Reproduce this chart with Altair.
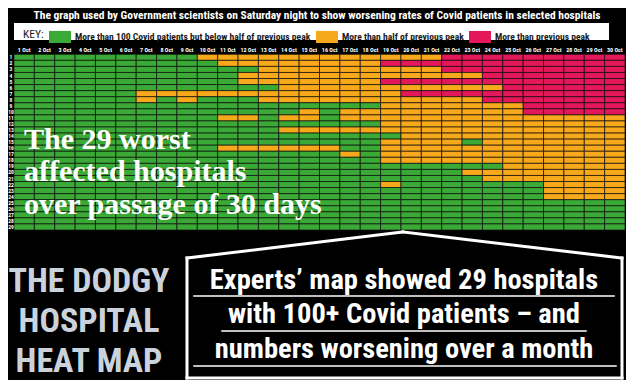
import altair as alt
import pandas as pd

# ---------------- data ----------------
TITLE = ("The graph used by Government scientists on Saturday night to show "
         "worsening rates of Covid patients in selected hospitals")
KEY_TITLE = "KEY:"
KEY_LABELS = [
    "More than 100 Covid patients but below half of previous peak",
    "More than half of previous peak",
    "More than previous peak",
]
KEY_COLORS = ["#3aa936", "#f7a81b", "#e3175a"]
KEY_CODES = ["G", "O", "R"]

DAYS = list(range(1, 31))
DAY_LABELS = [f"{d} Oct" for d in DAYS]
HOSPITALS = list(range(1, 30))

# one string per hospital (row), one letter per day 1..30 Oct (grouped by 5 days)
# G = below half of previous peak, O = more than half, R = more than previous peak
STATUS_ROWS = [
    "GGGGG GGGGO OOOOO OOOOO ORRRR RRRRR",  # 1
    "GGGGG GGGGG OOOOO OOORR RRRRR RRRRR",  # 2
    "GGGGG GGGGG GGOOO OOOOO ORRRR RRRRR",  # 3
    "GGGGG GGGGG GOOOO OOOOO OOORR RRRRR",  # 4
    "GGGGG GGGGG GOOOO OOORR RRRRR RRRRR",  # 5
    "GGGGG GGGGG GGGOO OOOOO OOOOR RRRRR",  # 6
    "GGGGG GOOOO OOOOO OOOOR RRRRR RRRRR",  # 7
    "GGGGG GOGOG GGOOO OOOOO OOORR RRRRR",  # 8
    "GGGGG GGGGG GGGGG GGGOO OOOOO RRRRR",  # 9
    "GGGGG GGGGG GGGGO GOOOO OOOOO RRRRR",  # 10
    "GGGGG GGGGG OOGOO GOOOO OOOOO OOOOO",  # 11
    "GGGGG GGGGG GGGGG GGGOO OOOOO OOOOO",  # 12
    "GGGGG GGGGG GGGOO OOOOO OOOOO OOOOO",  # 13
    "GGGGG GGGGG GGGGG GGGGO OOOOO OOOOO",  # 14
    "GGGGG GGGGG GGGGG GGGOO OOGOO OOOOO",  # 15
    "GGGGG GGGGG OOOOO OGGOO OOOOO OOOOO",  # 16
    "GGGGG GGGGG GGGGG GOGOO OOOOO OOOOO",  # 17
    "GGGGG GGGGG GGGGG GGGOO OOOOO OOOOO",  # 18
    "GGGGG GGGGG GGGGG GGGGG GGGGO OOOOO",  # 19
    "GGGGG GGGGG GGGGG GGGGG GGOOO OOOOO",  # 20
    "GGGGG GGGGG GGGGG GGGGG GGGOO OOOOO",  # 21
    "GGGGG GGGGG GGGGG GGGOG GGGGG GOOOO",  # 22
    "GGGGG GGGGG GGGGG GGGGG GGGGG GOOOO",  # 23
    "GGGGG GGGGG GGGGG GGGGG GGGGG GOOOO",  # 24
    "GGGGG GGGGG GGGGG GGGGG GGGGG GGGGG",  # 25
    "GGGGG GGGGG GGGGG GGGGG GGGGG GGGGG",  # 26
    "GGGGG GGGGG GGGGG GGGGG GGGGG GGGGG",  # 27
    "GGGGG GGGGG GGGGG GGGGG GGGGG GGGGG",  # 28
    "GGGGG GGGGG GGGGG GGGGG GGGGG GGGGG",  # 29
]

OVERLAY_LINES = ["The 29 worst", "affected hospitals", "over passage of 30 days"]
HEADLINE_LINES = ["THE DODGY", "HOSPITAL", "HEAT MAP"]
BOX_LINES = ["Experts\u2019 map showed 29 hospitals",
             "with 100+ Covid patients \u2013 and",
             "numbers worsening over a month"]

# ---------------- table for the library ----------------
records = []
for h, row in zip(HOSPITALS, STATUS_ROWS):
    codes = row.replace(" ", "")
    for d, c in zip(DAYS, codes):
        records.append({"hospital": h, "day": d,
                        "status": KEY_LABELS[KEY_CODES.index(c)]})
cells = pd.DataFrame(records)

# ---------------- layout (page pixels -> chart pixels; page has 8px margin) ----------------
W, H = 618, 372
M = 8


def px(v):
    return round(v - M, 2)


def py(v):
    return round(v - M, 2)


NARROW = "Liberation Sans Narrow, Roboto Condensed, Liberation Sans, sans-serif"
SERIF = "Liberation Serif, DejaVu Serif, serif"

xs = alt.Scale(domain=[0.5, 30.5], range=[px(14), px(625)], nice=False, zero=False)
ys = alt.Scale(domain=[0.5, 29.5], range=[py(54.3), py(230)], nice=False, zero=False)

ONE = pd.DataFrame({"k": [0]})

heat = alt.Chart(cells).transform_calculate(
    d0="datum.day - 0.5", d1="datum.day + 0.5",
    h0="datum.hospital - 0.5", h1="datum.hospital + 0.5",
).mark_rect(stroke="#111111", strokeWidth=0.7).encode(
    x=alt.X("d0:Q", scale=xs, axis=None),
    x2="d1:Q",
    y=alt.Y("h0:Q", scale=ys, axis=None),
    y2="h1:Q",
    color=alt.Color(
        "status:N",
        scale=alt.Scale(domain=KEY_LABELS, range=KEY_COLORS),
        legend=alt.Legend(
            title=KEY_TITLE, orient="none", legendX=px(23), legendY=py(25.5),
            direction="horizontal", titleOrient="left", titleFont=NARROW,
            titleFontSize=11.5, titleFontWeight="normal", titleColor="#1a1a1a",
            titlePadding=5, titleBaseline="middle", titleAnchor="middle",
            symbolType="M-1,-0.55L1,-0.55L1,0.55L-1,0.55Z", symbolSize=484,
            symbolStrokeWidth=0, symbolOpacity=1,
            labelFont=NARROW, labelFontSize=9.6, labelFontWeight="bold",
            labelColor="#1a1a1a", labelLimit=0, labelOffset=4,
            columnPadding=5, padding=0, offset=0,
        ),
    ),
)

day_text = alt.Chart(pd.DataFrame({"day": DAYS, "label": DAY_LABELS})).mark_text(
    color="white", fontSize=6, fontWeight="bold", font=NARROW, baseline="middle"
).encode(x=alt.X("day:Q", scale=xs, axis=None), y=alt.value(py(49.5)), text="label:N")

hosp_text = alt.Chart(pd.DataFrame({"hospital": HOSPITALS})).mark_text(
    color="white", fontSize=5.5, fontWeight="bold", font=NARROW, baseline="middle"
).encode(y=alt.Y("hospital:Q", scale=ys, axis=None), x=alt.value(px(11)), text="hospital:N")

key_bar = alt.Chart(ONE).mark_rect(color="white").encode(
    x=alt.value(px(14)), x2=alt.value(px(609)), y=alt.value(py(23)), y2=alt.value(py(40)))


def text_line(t, x, y, size, font, color="white", align="center", weight="bold"):
    return alt.Chart(pd.DataFrame({"t": [t]})).mark_text(
        font=font, fontSize=size, fontWeight=weight, color=color, align=align,
        baseline="alphabetic",
    ).encode(x=alt.value(px(x)), y=alt.value(py(y)), text="t:N")


def seg(x1, y1, x2, y2, width=3.0):
    return alt.Chart(ONE).mark_rule(color="white", strokeWidth=width, strokeCap="square").encode(
        x=alt.value(px(x1)), y=alt.value(py(y1)), x2=alt.value(px(x2)), y2=alt.value(py(y2)))


layers = [heat, day_text, hosp_text, key_bar,
          text_line(TITLE, 317, 18.8, 11.5, NARROW)]

for t, yb in zip(OVERLAY_LINES, [149, 181, 214]):
    layers.append(text_line(t, 24, yb, 30, SERIF, align="left"))

for t, yb in zip(HEADLINE_LINES, [292, 332, 372]):
    layers.append(text_line(t, 89, yb, 34, NARROW, color="#cad3dc"))

# house-shaped frame
layers += [
    seg(187, 258, 403, 232), seg(403, 232, 622, 258),
    seg(187, 258, 187, 378), seg(622, 258, 622, 378), seg(187, 378, 622, 378),
    seg(194, 296, 614, 296, 1.5), seg(222, 331, 586, 331, 1.5), seg(194, 366, 616, 366, 1.5),
]
for t, yb in zip(BOX_LINES, [289, 323, 358]):
    layers.append(text_line(t, 404, yb, 28.5, NARROW))

chart = alt.layer(*layers).properties(
    width=W, height=H, background="#000000", padding=0,
    autosize=alt.AutoSizeParams(type="none"),
).configure_view(stroke=None)

chart.save("out.html", embed_options={"renderer": "svg", "actions": False})
